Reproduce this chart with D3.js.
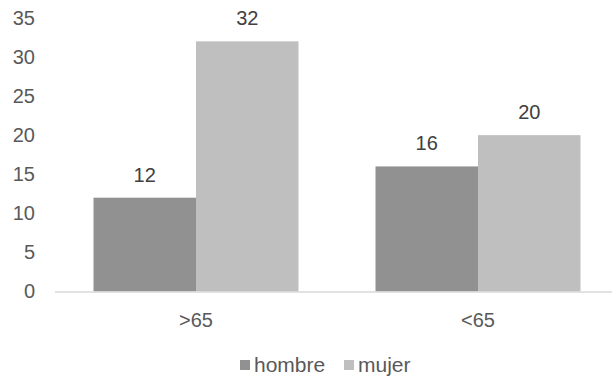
<!DOCTYPE html>
<html>
<head>
<meta charset="utf-8">
<script src="https://cdn.jsdelivr.net/npm/d3@7"></script>
<style>
  body { margin: 0; background: #fff; }
  svg { display: block; font-family: "Liberation Sans", Arial, sans-serif; }
</style>
</head>
<body>
<svg id="chart" width="612" height="378"></svg>
<script>
const categories = [">65", "<65"];
const seriesNames = ["hombre", "mujer"];
const hombre = [12, 16];
const mujer = [32, 20];
const yTicks = [0, 5, 10, 15, 20, 25, 30, 35];
const colors = ["#919191", "#bfbfbf"];

const FONT = "20px";
const svg = d3.select("#chart");
const W = 612;

// category bands: 282px each, starting at the plot's left edge
const x = d3.scaleBand().domain(categories).range([55, 619]);
const y = d3.scaleLinear().domain([0, 35]).range([291.5, 17.9]);

// two bars per category with a gap between groups
const inner = d3.scaleBand().domain(seriesNames)
  .range([0, x.bandwidth()]).paddingInner(0).paddingOuter(0.3756);

// y-axis labels
const yAxis = svg.append("g").attr("transform", "translate(35,0)")
  .call(d3.axisLeft(y).tickValues(yTicks).tickSize(0).tickPadding(0));
yAxis.select(".domain").remove();
yAxis.selectAll("text").attr("fill", "#595959").style("font-size", FONT)
  .style("font-family", "Liberation Sans, Arial, sans-serif");

const data = seriesNames.map((s, i) => ({ name: s, values: i === 0 ? hombre : mujer }));

data.forEach((s, si) => {
  const g = svg.append("g");
  g.selectAll("rect").data(s.values).join("rect")
    .attr("x", (d, i) => x(categories[i]) + inner(s.name))
    .attr("width", inner.bandwidth())
    .attr("y", d => y(d))
    .attr("height", d => y(0) - y(d))
    .attr("fill", colors[si]);
  g.selectAll("text").data(s.values).join("text")
    .attr("x", (d, i) => x(categories[i]) + inner(s.name) + inner.bandwidth() / 2)
    .attr("y", d => y(d) - 16)
    .attr("text-anchor", "middle")
    .attr("fill", "#404040")
    .style("font-size", FONT)
    .text(d => d);
});

// baseline
svg.append("line")
  .attr("x1", 55).attr("x2", W)
  .attr("y1", y(0) + 0.5).attr("y2", y(0) + 0.5)
  .attr("stroke", "#d9d9d9").attr("stroke-width", 1.5);

// category labels
const xAxis = svg.append("g").attr("transform", `translate(0,${y(0)})`)
  .call(d3.axisBottom(x).tickSize(0).tickPadding(21));
xAxis.select(".domain").remove();
xAxis.selectAll("text").attr("fill", "#595959").style("font-size", FONT)
  .style("font-family", "Liberation Sans, Arial, sans-serif");

// legend
const legendItems = [
  { name: seriesNames[0], color: colors[0], x: 240 },
  { name: seriesNames[1], color: colors[1], x: 344 }
];
const lg = svg.append("g");
legendItems.forEach(it => {
  lg.append("rect").attr("x", it.x).attr("y", 360).attr("width", 10).attr("height", 10)
    .attr("fill", it.color);
  lg.append("text").attr("x", it.x + 14).attr("y", 372)
    .attr("fill", "#595959").style("font-size", "21px").text(it.name);
});
</script>
</body>
</html>
